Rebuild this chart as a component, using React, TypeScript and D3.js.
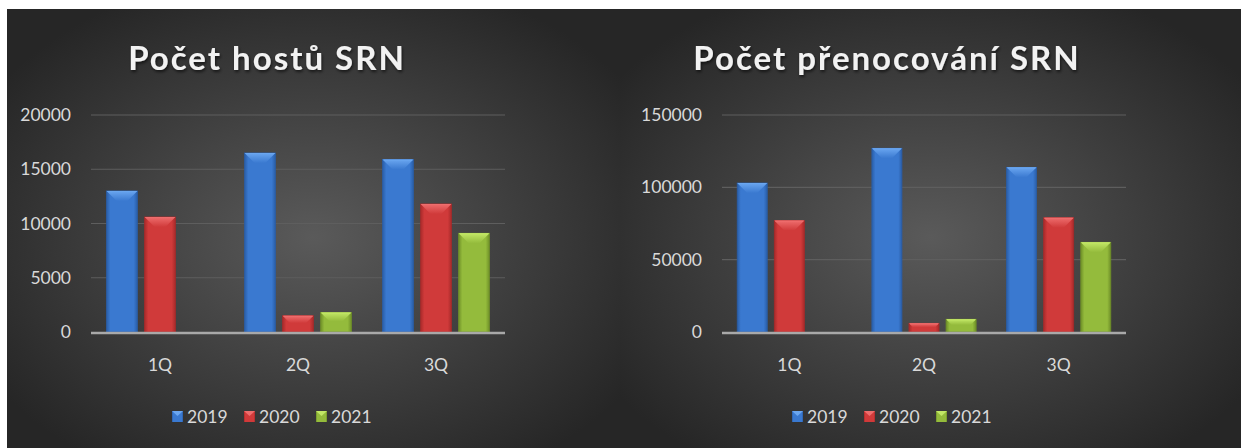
import * as d3 from 'd3';
import { useEffect, useRef } from 'react';

const categories = ['1Q', '2Q', '3Q'];
const years = ['2019', '2020', '2021'];

const guests2019 = [13000, 16500, 15900];
const guests2020 = [10600, 1500, 11800];
const guests2021 = [0, 1800, 9100];
const guestTicks = [0, 5000, 10000, 15000, 20000];

const nights2019 = [103000, 127000, 113800];
const nights2020 = [77000, 6000, 79000];
const nights2021 = [0, 8800, 62000];
const nightTicks = [0, 50000, 100000, 150000];

const colors: any = {
    '2019': { base: '#3a79d0', dark: '#2a5ea8', light: '#6aa6f0' },
    '2020': { base: '#d03a3a', dark: '#a82a2a', light: '#ee6d6d' },
    '2021': { base: '#94bb3c', dark: '#6f9028', light: '#c2e766' },
};

const FONT = 'Lato, "Open Sans", sans-serif';

const App = () => {
    const ref = useRef<SVGSVGElement>(null);

    useEffect(() => {
        const svg: any = d3.select(ref.current);
        svg.selectAll('*').remove();
        const defs = svg.append('defs');

        // background gradients
        ['bgL', 'bgR'].forEach((id) => {
            const g = defs.append('radialGradient').attr('id', id)
                .attr('cx', '50%').attr('cy', '52%').attr('r', '62%');
            g.append('stop').attr('offset', '0%').attr('stop-color', '#5a5a5a');
            g.append('stop').attr('offset', '100%').attr('stop-color', '#262626');
        });

        years.forEach((y) => {
            const c = colors[y];
            const g = defs.append('linearGradient').attr('id', 'bar' + y)
                .attr('x1', '0%').attr('x2', '100%').attr('y1', '0%').attr('y2', '0%');
            g.append('stop').attr('offset', '0%').attr('stop-color', c.dark);
            g.append('stop').attr('offset', '12%').attr('stop-color', c.base);
            g.append('stop').attr('offset', '88%').attr('stop-color', c.base);
            g.append('stop').attr('offset', '100%').attr('stop-color', c.dark);
            const t = defs.append('linearGradient').attr('id', 'top' + y)
                .attr('x1', '0%').attr('x2', '0%').attr('y1', '0%').attr('y2', '100%');
            t.append('stop').attr('offset', '0%').attr('stop-color', c.light);
            t.append('stop').attr('offset', '100%').attr('stop-color', c.base);
        });

        const shadow = defs.append('filter').attr('id', 'tshadow')
            .attr('x', '-10%').attr('y', '-20%').attr('width', '120%').attr('height', '150%');
        shadow.append('feDropShadow').attr('dx', 1).attr('dy', 2).attr('stdDeviation', 1.5)
            .attr('flood-color', '#000').attr('flood-opacity', 0.6);

        svg.append('rect').attr('x', 7).attr('y', 9).attr('width', 613).attr('height', 439).attr('fill', 'url(#bgL)');
        svg.append('rect').attr('x', 620).attr('y', 9).attr('width', 621).attr('height', 439).attr('fill', 'url(#bgR)');

        const drawChart = (opts: any) => {
            const { title, titleX, left, right, top, bottom, maxV, ticks, series } = opts;
            const g = svg.append('g');

            g.append('text')
                .attr('x', titleX).attr('y', 70)
                .attr('text-anchor', 'middle')
                .style('font-family', FONT)
                .style('font-weight', 700)
                .style('font-size', '33px')
                .style('letter-spacing', '2px')
                .attr('fill', '#f2f2f2')
                .attr('filter', 'url(#tshadow)')
                .text(title);

            const y = d3.scaleLinear().domain([0, maxV]).range([bottom, top]);
            const x0 = d3.scaleBand().domain(categories).range([left, right]);
            const x1 = d3.scaleBand().domain(years).range([0, x0.bandwidth()])
                .paddingInner(0.19).paddingOuter(0.41);

            // gridlines
            g.selectAll('.grid').data(ticks.filter((t: number) => t > 0)).enter()
                .append('line')
                .attr('x1', left).attr('x2', right)
                .attr('y1', (d: number) => y(d)).attr('y2', (d: number) => y(d))
                .attr('stroke', '#5e5e5e').attr('stroke-width', 1.2);

            // tick labels
            g.selectAll('.tick').data(ticks).enter()
                .append('text')
                .attr('x', left - 20).attr('y', (d: number) => y(d))
                .attr('dy', '0.35em')
                .attr('text-anchor', 'end')
                .style('font-family', FONT)
                .style('font-size', '17.5px')
                .attr('fill', '#d9d9d9')
                .text((d: number) => d);

            // bars
            categories.forEach((cat, ci) => {
                years.forEach((yr, si) => {
                    const v = series[si][ci];
                    const bx = (x0(cat) as number) + (x1(yr) as number);
                    const bw = x1.bandwidth();
                    const by = y(v);
                    const bh = bottom - by;
                    if (bh <= 0.5) return;
                    const bar = g.append('g');
                    bar.append('rect')
                        .attr('x', bx).attr('y', by).attr('width', bw).attr('height', bh)
                        .attr('fill', `url(#bar${yr})`)
                        .attr('stroke', colors[yr].dark).attr('stroke-width', 0.8);
                    const b = Math.min(10, bh * 0.45);
                    bar.append('polygon')
                        .attr('points', [[bx, by], [bx + bw, by], [bx + bw - b, by + b], [bx + b, by + b]]
                            .map((p) => p.join(',')).join(' '))
                        .attr('fill', `url(#top${yr})`);
                    bar.append('line')
                        .attr('x1', bx + 1).attr('x2', bx + bw - 1).attr('y1', by + 0.5).attr('y2', by + 0.5)
                        .attr('stroke', colors[yr].light).attr('stroke-width', 1);
                });
            });

            // axis line
            g.append('line')
                .attr('x1', left).attr('x2', right).attr('y1', bottom + 1).attr('y2', bottom + 1)
                .attr('stroke', '#a9a9a9').attr('stroke-width', 2.5);

            // category labels
            g.selectAll('.cat').data(categories).enter()
                .append('text')
                .attr('x', (d: string) => (x0(d) as number) + x0.bandwidth() / 2)
                .attr('y', 365).attr('dy', '0.35em')
                .attr('text-anchor', 'middle')
                .style('font-family', FONT)
                .style('font-size', '17.5px')
                .attr('fill', '#d9d9d9')
                .text((d: string) => d);

            // legend
            const lx = opts.legendX;
            years.forEach((yr, i) => {
                const ix = lx + i * 72;
                const s = 11;
                const sy = 411;
                g.append('rect').attr('x', ix).attr('y', sy).attr('width', s).attr('height', s)
                    .attr('fill', `url(#bar${yr})`);
                g.append('polygon')
                    .attr('points', [[ix, sy], [ix + s, sy], [ix + s / 2, sy + 5]].map((p) => p.join(',')).join(' '))
                    .attr('fill', colors[yr].light);
                g.append('text')
                    .attr('x', ix + s + 4).attr('y', sy + s / 2).attr('dy', '0.35em')
                    .style('font-family', FONT)
                    .style('font-size', '17.5px')
                    .attr('fill', '#d9d9d9')
                    .text(yr);
            });
        };

        drawChart({
            title: 'Počet hostů SRN', titleX: 267,
            left: 91, right: 505, top: 115, bottom: 332,
            maxV: 20000, ticks: guestTicks,
            series: [guests2019, guests2020, guests2021],
            legendX: 172,
        });

        drawChart({
            title: 'Počet přenocování SRN', titleX: 887,
            left: 722, right: 1126, top: 115, bottom: 332,
            maxV: 150000, ticks: nightTicks,
            series: [nights2019, nights2020, nights2021],
            legendX: 792,
        });
    }, []);

    return (
        <svg ref={ref} width={1241} height={448}
            style={{ position: 'absolute', left: 0, top: 0, display: 'block' }} />
    );
};

export default App;
